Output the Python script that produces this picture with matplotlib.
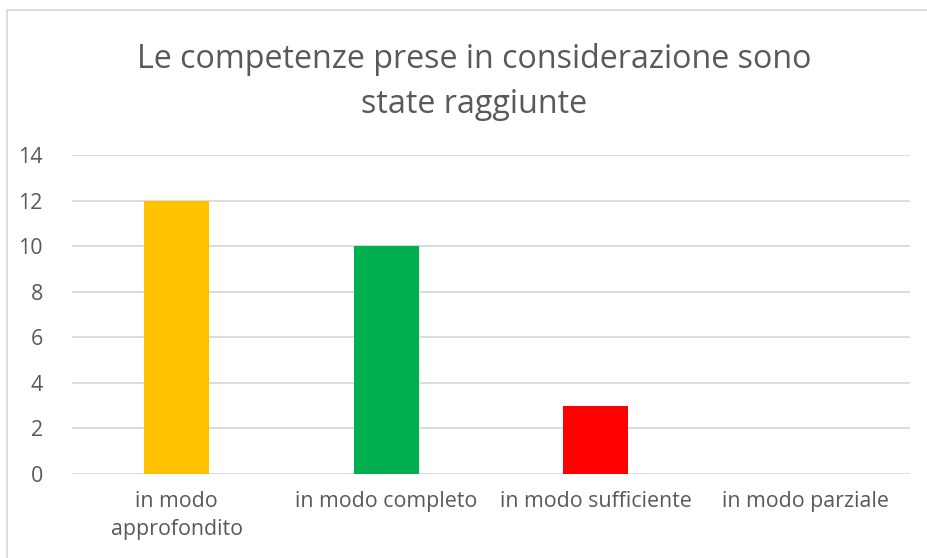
import matplotlib.pyplot as plt
from matplotlib.patches import Rectangle

categories = ["in modo\napprofondito", "in modo completo", "in modo sufficiente", "in modo parziale"]
values = [12, 10, 3, 0]
colors = ["#FFC000", "#00B050", "#FF0000", "#4472C4"]
title = "Le competenze prese in considerazione sono\nstate raggiunte"

plt.rcParams['font.family'] = ['Open Sans', 'DejaVu Sans']
text_color = "#595959"

fig = plt.figure(figsize=(9.28, 5.58), dpi=100)
ax = fig.add_axes([0.0776, 0.1505, 0.903, 0.5717])

x = range(len(categories))
ax.bar(x, values, width=0.31, color=colors, zorder=3)

ax.set_ylim(0, 14)
ax.set_xlim(-0.5, len(categories) - 0.5)
ax.set_yticks(range(0, 15, 2))
ax.set_xticks(list(x))
ax.set_xticklabels(categories, linespacing=1.45)
ax.grid(axis="y", color="#D9D9D9", linewidth=1.3, zorder=0)
for s in ax.spines.values():
    s.set_visible(False)
ax.tick_params(axis="both", length=0, colors=text_color, labelsize=15.4)
ax.tick_params(axis="y", pad=21)
ax.tick_params(axis="x", pad=12)

fig.text(0.511, 0.853, title, ha="center", va="center", fontsize=23.2,
         color=text_color, linespacing=1.5)

# chart area border
fig.patches.append(Rectangle((0.008, -0.01), 1.0, 0.992, transform=fig.transFigure,
                             fill=False, edgecolor="#D9D9D9", linewidth=1.3))

fig.savefig("out.png", dpi=100)
